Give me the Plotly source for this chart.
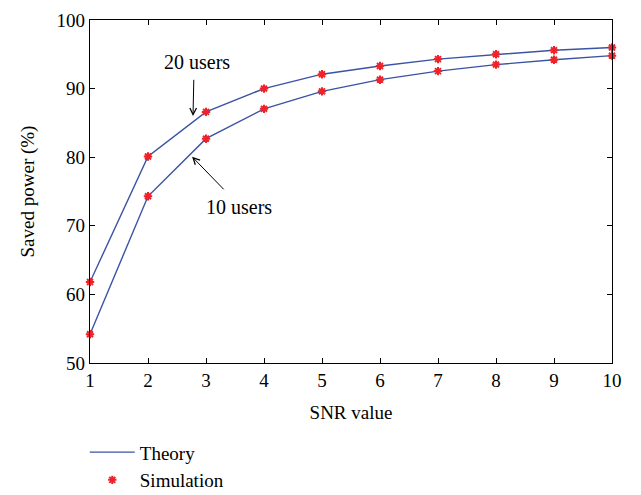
import plotly.graph_objects as go

snr = [1, 2, 3, 4, 5, 6, 7, 8, 9, 10]
users20 = [61.8, 80.1, 86.6, 90.0, 92.1, 93.3, 94.3, 95.0, 95.6, 96.0]
users10 = [54.2, 74.3, 82.7, 87.05, 89.6, 91.3, 92.55, 93.5, 94.2, 94.8]
x_ticks = [1, 2, 3, 4, 5, 6, 7, 8, 9, 10]
y_ticks = [50, 60, 70, 80, 90, 100]

LINE = "#3a53a4"
RED = "#ee2229"
FONT = "Liberation Serif"

fig = go.Figure()
fig.add_trace(go.Scatter(x=snr, y=users20, mode="lines", name="Theory",
                         line=dict(color=LINE, width=1.4), legendgroup="t"))
fig.add_trace(go.Scatter(x=snr, y=users10, mode="lines", name="Theory",
                         line=dict(color=LINE, width=1.4), legendgroup="t", showlegend=False))
mk = dict(symbol="asterisk", size=7, color=RED, line=dict(color=RED, width=2))
fig.add_trace(go.Scatter(x=snr, y=users20, mode="markers", name="Simulation",
                         marker=mk, legendgroup="s", cliponaxis=False))
fig.add_trace(go.Scatter(x=snr, y=users10, mode="markers", name="Simulation",
                         marker=mk, legendgroup="s", showlegend=False, cliponaxis=False))

axis_common = dict(showline=True, linecolor="black", linewidth=1.3, mirror="ticks",
                   ticks="inside", ticklen=5, tickcolor="black", showgrid=False,
                   zeroline=False, tickfont=dict(family=FONT, size=19, color="black"))
fig.update_xaxes(range=[1, 10], tickvals=x_ticks, **axis_common,
                 title=dict(text="SNR value", font=dict(family=FONT, size=19, color="black"), standoff=15))
fig.update_yaxes(range=[50, 100], tickvals=y_ticks, **axis_common,
                 title=dict(text="Saved power (%)", font=dict(family=FONT, size=19, color="black"), standoff=16))

ann_font = dict(family=FONT, size=20, color="black")
fig.add_annotation(x=2.853, y=93.95, text="20 users", showarrow=False, font=ann_font)
fig.add_annotation(x=2.776, y=86.0, ax=2.79, ay=91.5, axref="x", ayref="y", text="",
                   showarrow=True, arrowhead=5, arrowsize=1.3, arrowwidth=1, arrowcolor="black")
fig.add_annotation(x=3.57, y=72.8, text="10 users", showarrow=False, font=ann_font)
fig.add_annotation(x=2.76, y=80.07, ax=3.33, ay=75.1, axref="x", ayref="y", text="",
                   showarrow=True, arrowhead=5, arrowsize=1.3, arrowwidth=1, arrowcolor="black")

fig.update_layout(
    width=641, height=495,
    margin=dict(l=82, r=37, t=12, b=140, autoexpand=False),
    paper_bgcolor="white", plot_bgcolor="white",
    font=dict(family=FONT, size=19, color="black"),
    legend=dict(x=-0.01, y=-0.205, xanchor="left", yanchor="top",
                bgcolor="rgba(0,0,0,0)", tracegroupgap=0, itemwidth=45,
                font=dict(family=FONT, size=19, color="black")),
)

fig.write_html("out.html")
